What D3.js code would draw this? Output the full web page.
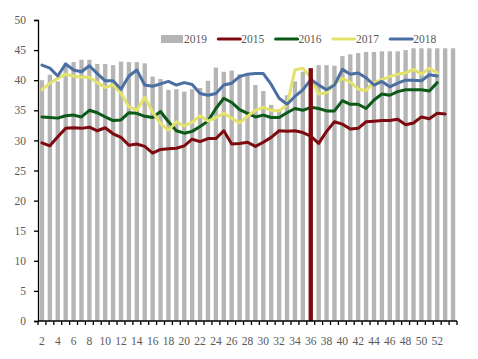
<!DOCTYPE html>
<html>
<head>
<meta charset="utf-8">
<script src="https://cdn.jsdelivr.net/npm/d3@7"></script>
<style>
  html, body { margin: 0; padding: 0; background: #fff; }
  svg { display: block; }
  text { font-family: "Liberation Serif", "Times New Roman", serif; fill: #595959; }
</style>
</head>
<body>
<svg id="chart" width="478" height="359"></svg>
<script>
// Week categories (as labelled on the axis)
const weeks = [2,3,4,5,6,7,8,9,10,11,12,13,14,15,16,17,18,19,20,21,22,23,24,25,26,27,28,29,30,31,32,33,34,35,36,37,38,39,40,41,42,43,44,45,46,47,48,49,50,51,52,53,54];
const tickLabels = [2,4,6,8,10,12,14,16,18,20,22,24,26,28,30,32,34,36,38,40,42,44,46,48,50,52];
const yTicks = [0,5,10,15,20,25,30,35,40,45,50];
const highlightWeek = 36;

const s2019 = [40.0,40.9,39.8,42.8,43.0,43.4,43.4,42.7,42.7,42.5,43.1,43.0,43.0,42.8,40.6,40.2,38.4,38.5,38.1,38.5,38.7,39.9,42.1,41.4,41.6,41.0,40.8,39.2,38.2,35.9,35.2,37.5,39.8,41.4,42.0,42.5,42.5,42.4,44.0,44.3,44.5,44.7,44.7,44.8,44.8,44.8,45.0,45.3,45.3,45.3,45.3,45.3,45.3];
const s2015 = [29.6,29.1,30.6,32.0,32.1,32.0,32.2,31.6,32.1,31.1,30.5,29.2,29.4,29.0,27.9,28.5,28.6,28.7,29.1,30.2,29.8,30.3,30.3,31.6,29.4,29.5,29.7,29.0,29.7,30.5,31.6,31.5,31.6,31.3,30.7,29.5,31.5,33.1,32.7,31.9,32.0,33.1,33.2,33.3,33.3,33.5,32.6,32.9,33.9,33.6,34.5,34.4,null];
const s2016 = [33.9,33.8,33.7,34.1,34.2,33.9,35.0,34.6,33.9,33.3,33.4,34.6,34.5,34.0,33.8,34.8,33.1,31.6,31.2,31.5,32.3,33.2,35.3,37.0,36.3,35.1,34.5,33.9,34.2,33.8,33.8,34.6,35.3,35.0,35.5,35.3,34.9,34.9,36.6,36.0,36.0,35.3,36.7,37.7,37.5,38.1,38.4,38.4,38.4,38.2,39.6,null,null];
const s2017 = [38.4,39.5,40.3,41.0,40.7,40.5,40.5,39.6,38.8,39.2,37.8,35.6,35.0,37.2,34.7,32.8,31.7,33.1,32.4,33.0,34.1,33.2,33.8,34.5,33.7,32.9,34.0,35.0,35.5,35.0,34.9,35.9,41.7,42.0,40.5,37.7,37.9,39.5,40.3,39.7,38.5,38.3,39.6,40.1,40.6,41.0,41.2,41.8,41.0,42.0,41.2,null,null];
const s2018 = [42.5,42.0,40.7,42.7,41.7,41.4,42.4,41.1,39.9,39.9,38.5,40.7,41.7,39.2,39.0,39.4,39.8,39.2,39.6,39.3,37.8,37.5,37.8,39.2,39.5,40.6,41.0,41.1,41.1,39.3,37.0,36.0,37.3,38.4,40.1,39.2,38.4,39.2,41.8,41.0,41.2,40.4,39.2,39.8,38.9,39.5,40.0,40.0,39.9,40.9,40.7,null,null];

const lineSeries = [
  {name: "2015", values: s2015, color: "#7e0a0f"},
  {name: "2016", values: s2016, color: "#0c5a17"},
  {name: "2017", values: s2017, color: "#e3e36c"},
  {name: "2018", values: s2018, color: "#4b6fa3"}
];
const barColor = "#b5b5b5";
const highlightColor = "#7e0a0f";

(function () {
const svg = d3.select("#chart");
const mLeft = 38, mRight = 457, mTop = 20, mBottom = 321;

const x = d3.scaleBand().domain(weeks).range([mLeft, mRight]).paddingInner(0.45).paddingOuter(0.225);
const xb = d3.scaleBand().domain(weeks).range([mLeft, mRight]);
const y = d3.scaleLinear().domain([0, 50]).range([mBottom, mTop]);

// bars (2019)
svg.append("g").selectAll("rect")
  .data(weeks.map((w, i) => ({w, v: s2019[i]})).filter(d => d.w !== highlightWeek))
  .join("rect")
  .attr("x", d => x(d.w))
  .attr("width", x.bandwidth())
  .attr("y", d => y(d.v))
  .attr("height", d => y(0) - y(d.v))
  .attr("fill", barColor);

// lines
const line = d3.line()
  .defined(d => d.v != null)
  .x(d => xb(d.w) + xb.bandwidth() / 2)
  .y(d => y(d.v))
  .curve(d3.curveLinear);

lineSeries.forEach(s => {
  svg.append("path")
    .datum(weeks.map((w, i) => ({w, v: s.values[i]})))
    .attr("d", line)
    .attr("fill", "none")
    .attr("stroke", s.color)
    .attr("stroke-width", 3)
    .attr("stroke-linejoin", "round")
    .attr("stroke-linecap", "round");
});

// highlighted bar for current week
svg.append("g").selectAll("rect")
  .data(weeks.map((w, i) => ({w, v: s2019[i]})).filter(d => d.w === highlightWeek))
  .join("rect")
  .attr("x", d => x(d.w))
  .attr("width", x.bandwidth())
  .attr("y", d => y(d.v))
  .attr("height", d => y(0) - y(d.v))
  .attr("fill", highlightColor);

// y axis
const yAxis = d3.axisLeft(y).tickValues(yTicks).tickSize(4).tickPadding(8);
const gy = svg.append("g").attr("transform", `translate(${mLeft},0)`).call(yAxis);
gy.select(".domain").attr("stroke", "#000").attr("stroke-width", 1.3);
gy.selectAll(".tick line").attr("stroke", "#000").attr("stroke-width", 1.3);
gy.selectAll(".tick text").style("font-family", "Liberation Serif, serif").attr("font-size", 11.5).attr("fill", "#595959");

// x axis: boundary ticks
const gx = svg.append("g");
gx.append("line").attr("x1", mLeft).attr("x2", mRight).attr("y1", mBottom).attr("y2", mBottom)
  .attr("stroke", "#000").attr("stroke-width", 1.3);
const boundaries = weeks.map(w => xb(w)).concat([xb(weeks[weeks.length - 1]) + xb.bandwidth()]);
gx.selectAll("line.bt").data(boundaries).join("line").attr("class", "bt")
  .attr("x1", d => d).attr("x2", d => d).attr("y1", mBottom).attr("y2", mBottom + 4)
  .attr("stroke", "#000").attr("stroke-width", 1.3);
const xAxis = d3.axisBottom(xb).tickValues(tickLabels).tickSize(0).tickPadding(16);
const gxl = svg.append("g").attr("transform", `translate(0,${mBottom})`).call(xAxis);
gxl.select(".domain").remove();
gxl.selectAll(".tick text").style("font-family", "Liberation Serif, serif").attr("font-size", 11.5).attr("fill", "#595959");

// legend
const legendItems = [{name: "2019", color: barColor, type: "bar"}].concat(lineSeries.map(s => ({name: s.name, color: s.color, type: "line"})));
const lg = svg.append("g").attr("transform", "translate(161,39)");
legendItems.forEach((d, i) => {
  const g = lg.append("g").attr("transform", `translate(${i * 57.3},0)`);
  if (d.type === "bar") {
    g.append("rect").attr("x", 0).attr("y", -4).attr("width", 22).attr("height", 8).attr("fill", d.color);
  } else {
    g.append("line").attr("x1", 0).attr("x2", 22).attr("y1", 0).attr("y2", 0)
      .attr("stroke", d.color).attr("stroke-width", 3).attr("stroke-linecap", "round");
  }
  g.append("text").attr("x", 23).attr("y", 4).attr("font-size", 11.5).text(d.name);
});
})();
</script>
</body>
</html>
